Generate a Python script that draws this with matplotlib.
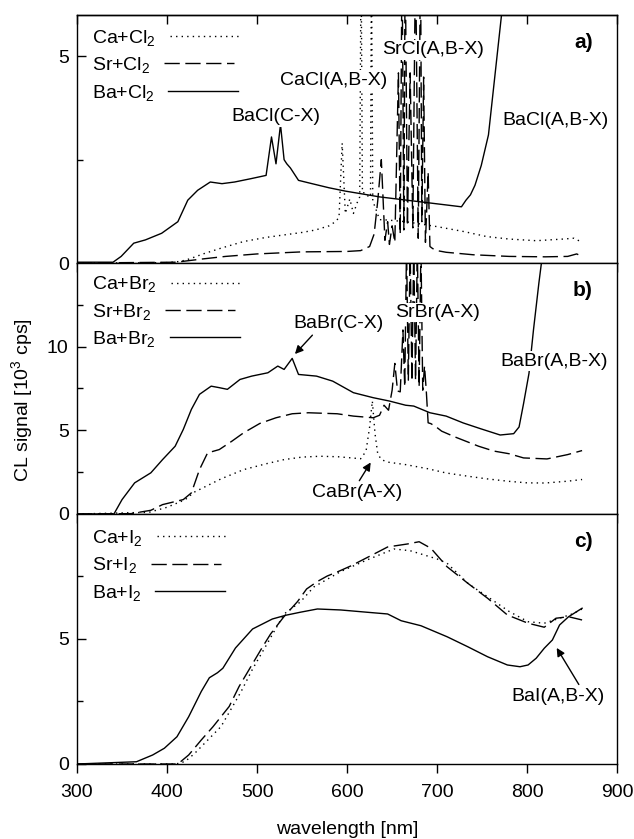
import matplotlib
matplotlib.use("Agg")
import matplotlib.pyplot as plt

plt.rcParams['font.family'] = ['Liberation Sans', 'DejaVu Sans']
plt.rcParams['mathtext.default'] = 'regular'
plt.rcParams['font.size'] = 14
plt.rcParams['axes.linewidth'] = 1.0

# ---- panel a: M + Cl2 ----
wl_ca_cl = [300, 400, 415, 425, 440, 460, 485, 510, 530, 550, 565, 580, 587, 591, 594.5, 598, 603, 607, 611, 614,
            615.5, 617, 620, 624, 626, 627, 628.5, 632, 636, 645, 665, 700, 730, 755, 780, 810, 840, 852, 861]
ca_cl = [0.0, 0.01, 0.04, 0.1, 0.22, 0.36, 0.52, 0.62, 0.68, 0.74, 0.8, 0.9, 1.0, 1.1, 2.9, 1.2, 1.55, 1.2, 1.45, 1.6,
         7.5, 1.7, 1.7, 1.6, 1.6, 7.5, 1.5, 1.3, 1.05, 1.04, 1.0, 0.88, 0.76, 0.64, 0.58, 0.54, 0.58, 0.6, 0.5]

wl_sr_cl = [300, 410, 425, 440, 465, 500, 550, 600, 615, 625, 630, 634, 638, 642, 645, 647, 650, 653, 657, 659,
            661, 663, 664.5, 667, 670, 673, 676, 679, 681.5, 683, 685, 687, 690, 692, 695, 700, 710, 740, 780, 820,
            845, 855, 861]
sr_cl = [0.0, 0.02, 0.06, 0.1, 0.16, 0.22, 0.27, 0.28, 0.3, 0.4, 0.7, 1.5, 2.5, 0.55, 1.0, 0.45, 0.9, 0.5, 4.6, 0.7,
         7.5, 0.8, 7.5, 0.9, 4.6, 0.85, 7.5, 0.6, 7.5, 1.0, 4.5, 0.5, 2.2, 0.4, 0.35, 0.3, 0.26, 0.2, 0.16, 0.15,
         0.16, 0.22, 0.16]

wl_ba_cl = [300, 340, 349, 363, 376, 394, 412, 423, 434, 448, 461, 475, 493, 510, 516, 521, 526, 530, 533, 537,
            546, 561, 580, 598, 620, 636, 655, 674, 693, 712, 727, 732, 737, 742, 749, 757, 761, 765, 769, 773, 777]
ba_cl = [0.02, 0.02, 0.16, 0.48, 0.56, 0.72, 1.0, 1.52, 1.76, 1.96, 1.92, 1.96, 2.04, 2.12, 3.05, 2.4, 3.35, 2.5,
         2.4, 2.3, 2.0, 1.92, 1.82, 1.74, 1.66, 1.6, 1.55, 1.5, 1.45, 1.4, 1.36, 1.52, 1.65, 1.88, 2.36, 3.1, 3.9,
         4.7, 5.5, 6.3, 7.0]

# ---- panel b: M + Br2 ----
wl_ca_br = [300, 380, 400, 420, 430, 445, 460, 485, 510, 530, 550, 570, 590, 605, 615, 621, 625, 628, 631, 634,
            638, 645, 665, 690, 710, 735, 755, 780, 800, 820, 845, 861]
ca_br = [0.0, 0.1, 0.4, 0.85, 1.3, 1.7, 2.1, 2.65, 3.0, 3.25, 3.4, 3.45, 3.42, 3.35, 3.3, 3.75, 5.2, 6.75, 4.8, 3.6,
         3.25, 3.1, 2.95, 2.7, 2.45, 2.25, 2.1, 1.95, 1.86, 1.85, 1.96, 2.06]

wl_sr_br = [300, 360, 382, 395, 418, 427, 436, 445, 458, 472, 485, 503, 521, 539, 557, 589, 607, 629, 636, 641,
            646, 650, 653, 656, 659, 662, 664, 666, 668, 670, 672, 674, 676, 678, 680, 682, 684, 686, 688, 690,
            693, 699, 705, 720, 746, 763, 780, 796, 822, 845, 861]
sr_br = [0.0, 0.02, 0.22, 0.56, 0.86, 1.26, 2.65, 3.65, 3.85, 4.35, 4.85, 5.41, 5.75, 5.99, 6.05, 5.99, 5.85, 5.75,
         5.9, 6.5, 6.2, 7.4, 9.0, 7.35, 7.3, 11.0, 7.6, 16, 8.0, 16, 7.95, 16, 8.0, 16, 7.6, 16, 7.4, 8.85, 7.3,
         5.45, 5.4, 5.2, 4.95, 4.6, 4.05, 3.76, 3.6, 3.35, 3.29, 3.55, 3.79]

wl_ba_br = [300, 341, 350, 364, 382, 395, 409, 418, 427, 436, 449, 458, 467, 481, 494, 512, 523, 530, 539, 546,
            566, 584, 607, 629, 647, 665, 674, 692, 710, 729, 748, 770, 785, 791, 796, 802, 807, 813, 817]
ba_br = [0.0, 0.0, 0.86, 1.86, 2.46, 3.25, 4.05, 5.05, 6.25, 7.15, 7.64, 7.55, 7.45, 8.04, 8.24, 8.44, 8.84, 8.64,
         9.3, 8.34, 8.24, 7.94, 7.25, 6.95, 6.75, 6.5, 6.45, 6.05, 5.85, 5.44, 5.1, 4.72, 4.8, 5.2, 6.6, 8.4, 11.0,
         13.8, 15.5]

# ---- panel c: M + I2 ----
wl_ca_i = [300, 410, 420, 430, 445, 460, 482, 495, 511, 530, 548, 563, 593, 622, 652, 670, 682, 700, 711, 735,
           756, 780, 801, 819, 836, 850, 861]
ca_i = [0.0, 0.0, 0.1, 0.4, 0.95, 1.5, 2.88, 3.8, 4.8, 6.0, 6.48, 7.08, 7.7, 8.16, 8.6, 8.53, 8.4, 8.2, 8.03, 7.2,
        6.69, 6.1, 5.69, 5.63, 5.83, 6.0, 6.2]

wl_sr_i = [300, 410, 415, 424, 438, 451, 469, 480, 506, 515, 530, 545, 555, 567, 578, 589, 604, 630, 645, 667,
           680, 693, 711, 734, 756, 778, 801, 819, 832, 846, 861]
sr_i = [0.0, 0.0, 0.09, 0.36, 0.96, 1.49, 2.3, 3.1, 4.68, 5.2, 5.9, 6.5, 7.0, 7.3, 7.52, 7.68, 7.92, 8.4, 8.68, 8.8,
        8.89, 8.63, 7.89, 7.23, 6.63, 5.96, 5.63, 5.47, 5.83, 5.89, 5.76]

wl_ba_i = [300, 366, 384, 397, 411, 424, 438, 447, 456, 462, 476, 495, 517, 532, 548, 567, 593, 622, 645, 660,
           682, 711, 734, 756, 778, 792, 801, 810, 819, 828, 836, 846, 861]
ba_i = [0.0, 0.09, 0.36, 0.63, 1.09, 1.89, 2.9, 3.45, 3.65, 3.83, 4.64, 5.4, 5.8, 5.95, 6.07, 6.2, 6.16, 6.07, 6.0,
        5.73, 5.53, 5.09, 4.69, 4.29, 3.96, 3.89, 3.96, 4.23, 4.63, 4.96, 5.56, 5.89, 6.23]

xticks = [300, 400, 500, 600, 700, 800, 900]
dotted = (0, (1, 3))
dashed = (0, (11, 4))

fig = plt.figure(figsize=(6.34, 8.39), dpi=100)
left, width = 0.1215, 0.852
ax_a = fig.add_axes([left, 0.6865, width, 0.2956])
ax_b = fig.add_axes([left, 0.3874, width, 0.2991])
ax_c = fig.add_axes([left, 0.0894, width, 0.2980])


def style(ax, ymax, yticks, yminor, letter, leg_top):
    ax.set_xlim(300, 900)
    ax.set_ylim(0, ymax)
    ax.set_xticks(xticks)
    ax.set_yticks(yticks)
    ax.set_yticks(yminor, minor=True)
    ax.tick_params(axis='x', direction='out', length=6.5, width=1, pad=8, top=False)
    ax.tick_params(axis='y', which='major', direction='in', length=6.5, width=1, pad=6)
    ax.tick_params(axis='y', which='minor', direction='in', length=4, width=1)
    leg = ax.legend(loc='upper left', bbox_to_anchor=(0.028, leg_top), frameon=False,
                    markerfirst=False, handlelength=3.6, handletextpad=0.7,
                    labelspacing=0.38, borderaxespad=0, borderpad=0, fontsize=14)
    # label text left-aligned, line sample right after each label
    for col in leg._legend_handle_box.get_children():
        col.align = 'left'
    ax.text(0.955, 0.89, letter, transform=ax.transAxes, ha='right', va='center',
            fontsize=15, fontweight='bold')


box = dict(facecolor='white', edgecolor='none', pad=1)

# panel a
ax_a.plot(wl_ca_cl, ca_cl, color='k', lw=1, linestyle=dotted, label='Ca+Cl$_2$')
ax_a.plot(wl_sr_cl, sr_cl, color='k', lw=1, linestyle=dashed, label='Sr+Cl$_2$')
ax_a.plot(wl_ba_cl, ba_cl, color='k', lw=1, label='Ba+Cl$_2$')
style(ax_a, 6, [0, 5], [2.5], 'a)', 0.948)
ax_a.tick_params(axis='x', labelbottom=False)
sec = ax_a.secondary_xaxis('top')
sec.set_xticks(xticks)
sec.tick_params(direction='in', length=6.5, width=1, labeltop=False)
ax_a.text(521, 3.54, 'BaCl(C-X)', ha='center', va='center', bbox=box)
ax_a.text(585, 4.42, 'CaCl(A,B-X)', ha='center', va='center', bbox=box)
ax_a.text(695, 5.16, 'SrCl(A,B-X)', ha='center', va='center', bbox=box)
ax_a.text(831, 3.46, 'BaCl(A,B-X)', ha='center', va='center', bbox=box)

# panel b
ax_b.plot(wl_ca_br, ca_br, color='k', lw=1, linestyle=dotted, label='Ca+Br$_2$')
ax_b.plot(wl_sr_br, sr_br, color='k', lw=1, linestyle=dashed, label='Sr+Br$_2$')
ax_b.plot(wl_ba_br, ba_br, color='k', lw=1, label='Ba+Br$_2$')
style(ax_b, 15, [0, 5, 10], [2.5, 7.5, 12.5], 'b)', 0.955)
ax_b.tick_params(axis='x', labelbottom=False)
arrow = dict(arrowstyle='-|>', color='k', lw=1, mutation_scale=12, shrinkA=2, shrinkB=1)
ax_b.annotate('BaBr(C-X)', xy=(541, 9.5), xytext=(590, 11.4), ha='center', va='center', bbox=box,
              arrowprops=dict(arrow, relpos=(0.25, 0.0)))
ax_b.text(700, 12.05, 'SrBr(A-X)', ha='center', va='center', bbox=box)
ax_b.text(830, 9.14, 'BaBr(A,B-X)', ha='center', va='center', bbox=box)
ax_b.annotate('CaBr(A-X)', xy=(627, 3.15), xytext=(611, 1.26), ha='center', va='center', bbox=box,
              arrowprops=dict(arrow, relpos=(0.5, 1.0)))

# panel c
ax_c.plot(wl_ca_i, ca_i, color='k', lw=1, linestyle=dotted, label='Ca+I$_2$')
ax_c.plot(wl_sr_i, sr_i, color='k', lw=1, linestyle=dashed, label='Sr+I$_2$')
ax_c.plot(wl_ba_i, ba_i, color='k', lw=1, label='Ba+I$_2$')
style(ax_c, 10, [0, 5], [2.5, 7.5], 'c)', 0.944)
ax_c.annotate('BaI(A,B-X)', xy=(832, 4.69), xytext=(834, 2.69), ha='center', va='center', bbox=box,
              arrowprops=dict(arrow, relpos=(0.75, 1.0)))
ax_c.set_xlabel('wavelength [nm]', labelpad=14)

fig.text(22 / 634, 1 - 400 / 839, 'CL signal [10$^3$ cps]', rotation=90, ha='center', va='center')

fig.savefig('out.png', dpi=100)
